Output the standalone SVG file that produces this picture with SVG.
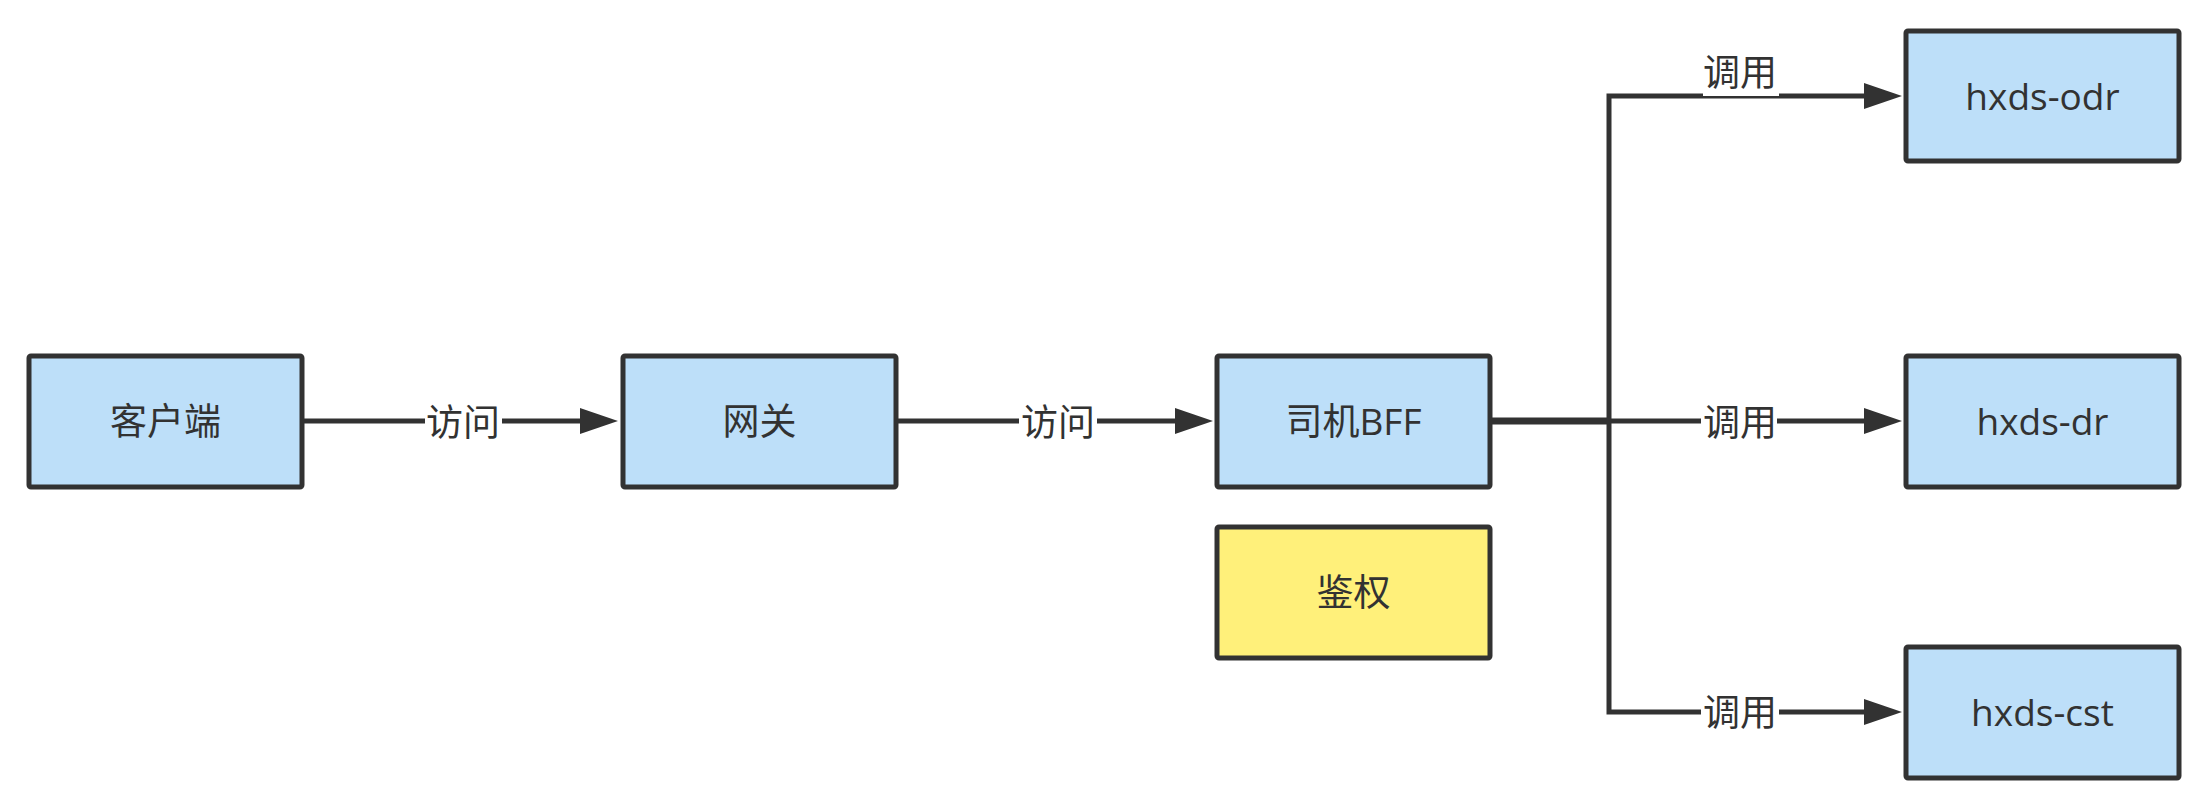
<svg xmlns="http://www.w3.org/2000/svg" width="2212" height="805" viewBox="0 0 2212 805">
<style>
.box{fill:#BDDFF9;stroke:#323232;stroke-width:5;}
.yel{fill:#FFF07A;stroke:#323232;stroke-width:5;}
.t{font-family:"Open Sans","Noto Sans CJK SC",sans-serif;font-size:37px;fill:#323232;text-anchor:middle;}
.e{fill:none;stroke:#323232;stroke-width:5;}
.lb{fill:#ffffff;}
</style>
<defs>
<marker id="arr" markerUnits="userSpaceOnUse" markerWidth="40" markerHeight="28" refX="18" refY="13" orient="auto">
<path d="M0,0 L38,13 L0,26 Z" fill="#323232"/>
</marker>
</defs>
<rect width="2212" height="805" fill="#ffffff"/>
<g id="connectors">
<path class="e" d="M304,421 H598" marker-end="url(#arr)"/>
<path class="e" d="M898,421 H1193" marker-end="url(#arr)"/>
<path class="e" d="M1492,420 H1609 V96 H1882" marker-end="url(#arr)"/>
<path class="e" d="M1492,421 H1882" marker-end="url(#arr)"/>
<path class="e" d="M1492,422 H1609 V712 H1882" marker-end="url(#arr)"/>
<rect class="lb" x="425" y="402" width="77" height="38"/>
<text class="t" x="463" y="436">访问</text>
<rect class="lb" x="1019" y="402" width="78" height="38"/>
<text class="t" x="1058" y="436">访问</text>
<rect class="lb" x="1703" y="55" width="76" height="41"/>
<text class="t" x="1740" y="86">调用</text>
<rect class="lb" x="1701" y="402" width="76" height="38"/>
<text class="t" x="1740" y="436">调用</text>
<rect class="lb" x="1701" y="694" width="78" height="38"/>
<text class="t" x="1740" y="726">调用</text>
</g>
<g id="client"><rect class="box" x="29" y="356" width="273" height="131" rx="2"/><text class="t" x="165.5" y="435">客户端</text></g>
<g id="gateway"><rect class="box" x="623" y="356" width="273" height="131" rx="2"/><text class="t" x="759.5" y="435">网关</text></g>
<g id="driver-bff"><rect class="box" x="1217" y="356" width="273" height="131" rx="2"/><text class="t" x="1353.5" y="435">司机BFF</text></g>
<g id="auth"><rect class="yel" x="1217" y="527" width="273" height="131" rx="2"/><text class="t" x="1353.5" y="606">鉴权</text></g>
<g id="hxds-odr"><rect class="box" x="1906" y="31" width="273" height="130" rx="2"/><text class="t" x="2042.5" y="110">hxds-odr</text></g>
<g id="hxds-dr"><rect class="box" x="1906" y="356" width="273" height="131" rx="2"/><text class="t" x="2042.5" y="435">hxds-dr</text></g>
<g id="hxds-cst"><rect class="box" x="1906" y="647" width="273" height="131" rx="2"/><text class="t" x="2042.5" y="726">hxds-cst</text></g>
</svg>
